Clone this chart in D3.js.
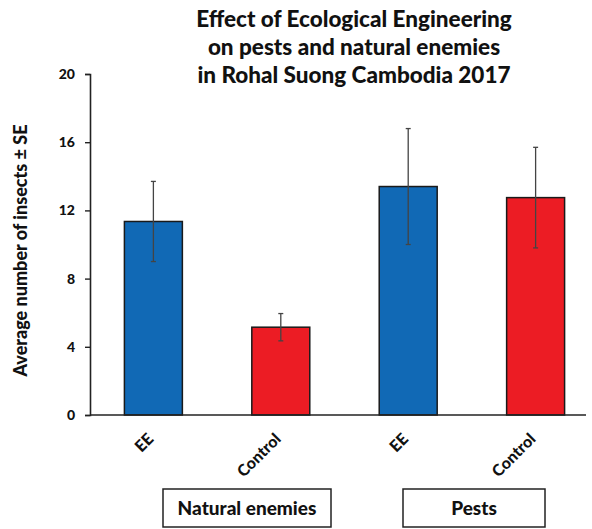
<!DOCTYPE html>
<html>
<head>
<meta charset="utf-8">
<script src="https://cdn.jsdelivr.net/npm/d3@7"></script>
<style>
  body { margin: 0; background: #fff; }
  svg { display: block; font-family: Lato, "Open Sans", sans-serif; font-weight: bold; }
</style>
</head>
<body>
<div id="chart"></div>
<script>
// data
const categories = ['EE', 'Control', 'EE', 'Control'];
const groups = ['Natural enemies', 'Pests'];
const means = [11.35, 5.15, 13.4, 12.75];
const errors = [2.35, 0.8, 3.4, 2.95];
const yTicks = [0, 4, 8, 12, 16, 20];
const titleLines = [
  'Effect of Ecological Engineering',
  'on pests and natural enemies',
  'in Rohal Suong Cambodia 2017'
];

const config = {
  width: 592,
  height: 529,
  plot: { left: 90, right: 599, top: 74, bottom: 415, axisEnd: 586 },
  colors: ['#1169b5', '#ec1c24', '#1169b5', '#ec1c24'],
  stroke: '#1a1a1a',
  errStroke: '#444',
  boxes: [
    { cx: 247, width: 168 },
    { cx: 474, width: 142 }
  ],
  boxTop: 489,
  boxHeight: 38
};

const svg = d3.select('#chart')
  .append('svg')
  .attr('width', config.width)
  .attr('height', config.height);

const idx = d3.range(categories.length);

const x = d3.scaleBand()
  .domain(idx)
  .range([config.plot.left, config.plot.right])
  .paddingInner(0.545)
  .paddingOuter(0.27);

const y = d3.scaleLinear()
  .domain([0, 20])
  .range([config.plot.bottom, config.plot.top]);

// title
svg.append('g')
  .selectAll('text')
  .data(titleLines)
  .enter()
  .append('text')
  .attr('x', 354)
  .attr('y', (d, i) => 27 + i * 28)
  .attr('text-anchor', 'middle')
  .attr('font-size', 22.5)
  .attr('font-weight', 900)
  .attr('fill', '#111')
  .text(d => d);

// y axis
const yAxis = svg.append('g')
  .attr('transform', `translate(${config.plot.left},0)`)
  .call(d3.axisLeft(y).tickValues(yTicks).tickSize(5).tickPadding(10));
yAxis.select('.domain').attr('stroke', '#222').attr('stroke-width', 1.6);
yAxis.selectAll('.tick line').attr('stroke', '#222').attr('stroke-width', 1.4);
yAxis.selectAll('.tick text')
  .attr('font-size', 14)
  .attr('font-family', 'Lato, sans-serif')
  .attr('font-weight', 900)
  .attr('fill', '#111');

// y axis title
svg.append('text')
  .attr('transform', `translate(27,${(config.plot.top + config.plot.bottom) / 2 + 6}) rotate(-90)`)
  .attr('text-anchor', 'middle')
  .attr('font-size', 18)
  .attr('font-weight', 900)
  .attr('fill', '#111')
  .text('Average number of insects \u00b1 SE');

// bars
svg.append('g')
  .selectAll('rect')
  .data(idx)
  .enter()
  .append('rect')
  .attr('x', i => x(i))
  .attr('y', i => y(means[i]))
  .attr('width', x.bandwidth())
  .attr('height', i => y(0) - y(means[i]))
  .attr('fill', i => config.colors[i])
  .attr('stroke', config.stroke)
  .attr('stroke-width', 1.5);

// error bars
const err = svg.append('g')
  .selectAll('g')
  .data(idx)
  .enter()
  .append('g')
  .attr('transform', i => `translate(${x(i) + x.bandwidth() / 2},0)`);

err.append('line')
  .attr('y1', i => y(means[i] + errors[i]))
  .attr('y2', i => y(means[i] - errors[i]))
  .attr('stroke', config.errStroke)
  .attr('stroke-width', 1.3);
[1, -1].forEach(s => {
  err.append('line')
    .attr('x1', -2.5)
    .attr('x2', 2.5)
    .attr('y1', i => y(means[i] + s * errors[i]))
    .attr('y2', i => y(means[i] + s * errors[i]))
    .attr('stroke', config.errStroke)
    .attr('stroke-width', 1.3);
});

// x axis line
svg.append('line')
  .attr('x1', config.plot.left)
  .attr('x2', config.plot.axisEnd)
  .attr('y1', y(0))
  .attr('y2', y(0))
  .attr('stroke', '#222')
  .attr('stroke-width', 1.6);

// category labels
svg.append('g')
  .selectAll('text')
  .data(idx)
  .enter()
  .append('text')
  .attr('transform', i => `translate(${x(i) + x.bandwidth() / 2 + 1},${config.plot.bottom + 25}) rotate(-45)`)
  .attr('text-anchor', 'end')
  .attr('font-size', 16)
  .attr('font-weight', 900)
  .attr('fill', '#111')
  .text(i => categories[i]);

// group boxes
const box = svg.append('g')
  .selectAll('g')
  .data(groups)
  .enter()
  .append('g');

box.append('rect')
  .attr('x', (d, i) => config.boxes[i].cx - config.boxes[i].width / 2)
  .attr('y', config.boxTop)
  .attr('width', (d, i) => config.boxes[i].width)
  .attr('height', config.boxHeight)
  .attr('fill', '#fff')
  .attr('stroke', '#222')
  .attr('stroke-width', 1.5);

box.append('text')
  .attr('x', (d, i) => config.boxes[i].cx)
  .attr('y', config.boxTop + config.boxHeight / 2 + 7)
  .attr('text-anchor', 'middle')
  .attr('font-size', 19)
  .attr('font-weight', 900)
  .attr('fill', '#111')
  .text(d => d);
</script>
</body>
</html>
